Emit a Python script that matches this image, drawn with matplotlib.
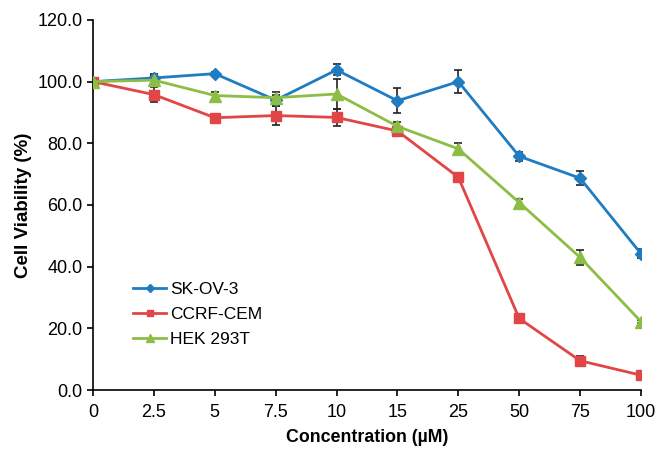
import numpy as np
import matplotlib.pyplot as plt

plt.rcParams['font.family'] = ['Liberation Sans', 'DejaVu Sans']

# DATA
conc = ['0', '2.5', '5', '7.5', '10', '15', '25', '50', '75', '100']
skov3 = [100.0, 101.2, 102.6, 94.0, 103.8, 93.8, 100.0, 75.8, 68.7, 44.2]
skov3_err = [0.5, 1.2, 0.5, 1.8, 1.8, 4.0, 3.8, 1.5, 2.3, 1.5]
ccrf = [100.0, 95.8, 88.3, 89.0, 88.4, 84.0, 69.0, 23.2, 9.5, 4.8]
ccrf_err = [0.5, 2.5, 0.5, 3.0, 2.8, 1.0, 0.8, 0.5, 1.5, 0.5]
hek = [100.0, 100.5, 95.5, 94.8, 96.0, 85.5, 78.2, 60.8, 43.0, 22.2]
hek_err = [0.5, 1.5, 1.2, 2.0, 5.0, 1.5, 2.0, 1.0, 2.4, 0.5]

x = np.arange(len(conc))

fig = plt.figure(figsize=(6.57, 4.49), dpi=100)
ax = fig.add_axes([0.1416, 0.1314, 0.834, 0.8241])

series = [
    (skov3, skov3_err, '#1f7cc1', 'D', 6, 'SK-OV-3'),
    (ccrf, ccrf_err, '#e24545', 's', 7, 'CCRF-CEM'),
    (hek, hek_err, '#8cbd45', '^', 8, 'HEK 293T'),
]
for y, e, c, m, ms, lab in series:
    ax.errorbar(x, y, yerr=e, fmt='none', ecolor='#222222', elinewidth=1.2,
                capsize=3, capthick=1.2, zorder=2)
    ax.plot(x, y, color=c, marker=m, markersize=ms, linewidth=2, label=lab, zorder=3)

ax.set_xlim(0, 9)
ax.set_ylim(0, 120)
ax.set_xticks(x)
ax.set_xticklabels(conc)
ax.set_yticks(np.arange(0, 121, 20))
ax.set_yticklabels(['%.1f' % v for v in np.arange(0, 121, 20)])
ax.tick_params(axis='both', direction='out', length=4, width=1.2, labelsize=13, color='black')
ax.tick_params(axis='x', pad=6)
ax.spines['top'].set_visible(False)
ax.spines['right'].set_visible(False)
ax.spines['left'].set_linewidth(1.2)
ax.spines['bottom'].set_linewidth(1.2)
ax.spines['bottom'].set_zorder(5)

ax.set_xlabel('Concentration (\u00b5M)', fontsize=12.8, fontweight='bold', labelpad=6)
ax.set_ylabel('Cell Viability (%)', fontsize=13.5, fontweight='bold', labelpad=4)

ax.legend(loc='lower left', bbox_to_anchor=(0.045, 0.075), frameon=False, fontsize=12.5,
          handlelength=1.9, labelspacing=0.55, handletextpad=0.2, markerscale=0.7)

fig.savefig('out.png', dpi=100)
